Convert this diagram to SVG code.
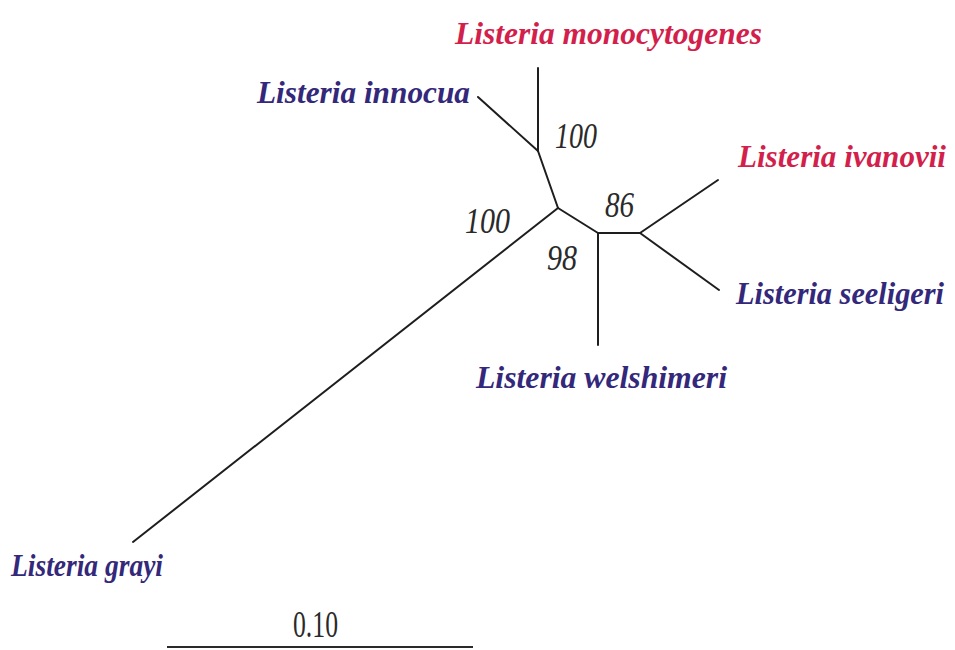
<svg xmlns="http://www.w3.org/2000/svg" width="955" height="650" viewBox="0 0 955 650">
<style>
.br{stroke:#1e1e1e;stroke-width:2;fill:none;stroke-linecap:round}
.tx{font-family:"Liberation Serif",serif;font-style:italic;font-weight:bold;font-size:32px}
.red{fill:#d21f4c}
.blue{fill:#33287a}
.bs{font-family:"Liberation Serif",serif;font-style:italic;font-size:36px;fill:#2a2a2a}
.sc{font-family:"Liberation Serif",serif;font-size:38px;fill:#2a2a2a}
</style>
<rect width="955" height="650" fill="#ffffff"/>
<g id="connectors">
<line class="br" x1="538" y1="68" x2="538" y2="151"/>
<line class="br" x1="478" y1="97" x2="538" y2="151"/>
<line class="br" x1="538" y1="151" x2="558" y2="208"/>
<line class="br" x1="558" y1="208" x2="133" y2="542"/>
<line class="br" x1="558" y1="208" x2="598" y2="233"/>
<line class="br" x1="598" y1="233" x2="598" y2="345"/>
<line class="br" x1="598" y1="233" x2="640" y2="233"/>
<line class="br" x1="640" y1="233" x2="718" y2="180"/>
<line class="br" x1="640" y1="233" x2="719" y2="290"/>
</g>
<g id="monocytogenes"><text class="tx red" x="455" y="44" textLength="307" lengthAdjust="spacingAndGlyphs">Listeria monocytogenes</text></g>
<g id="innocua"><text class="tx blue" x="257" y="103" textLength="213" lengthAdjust="spacingAndGlyphs">Listeria innocua</text></g>
<g id="ivanovii"><text class="tx red" x="738" y="167" textLength="208" lengthAdjust="spacingAndGlyphs">Listeria ivanovii</text></g>
<g id="seeligeri"><text class="tx blue" x="736" y="304" textLength="208" lengthAdjust="spacingAndGlyphs">Listeria seeligeri</text></g>
<g id="welshimeri"><text class="tx blue" x="476" y="388" textLength="251" lengthAdjust="spacingAndGlyphs">Listeria welshimeri</text></g>
<g id="grayi"><text class="tx blue" x="11" y="576" textLength="152" lengthAdjust="spacingAndGlyphs">Listeria grayi</text></g>
<g id="bootstrap">
<text class="bs" x="555" y="148" textLength="42" lengthAdjust="spacingAndGlyphs">100</text>
<text class="bs" x="465" y="233" textLength="45" lengthAdjust="spacingAndGlyphs">100</text>
<text class="bs" x="605" y="217" textLength="29" lengthAdjust="spacingAndGlyphs">86</text>
<text class="bs" x="547" y="270" textLength="30" lengthAdjust="spacingAndGlyphs">98</text>
</g>
<g id="scale">
<text class="sc" x="293" y="637" textLength="45" lengthAdjust="spacingAndGlyphs">0.10</text>
<line x1="167" y1="647" x2="473" y2="647" stroke="#2a2a2a" stroke-width="2"/>
</g>
</svg>
